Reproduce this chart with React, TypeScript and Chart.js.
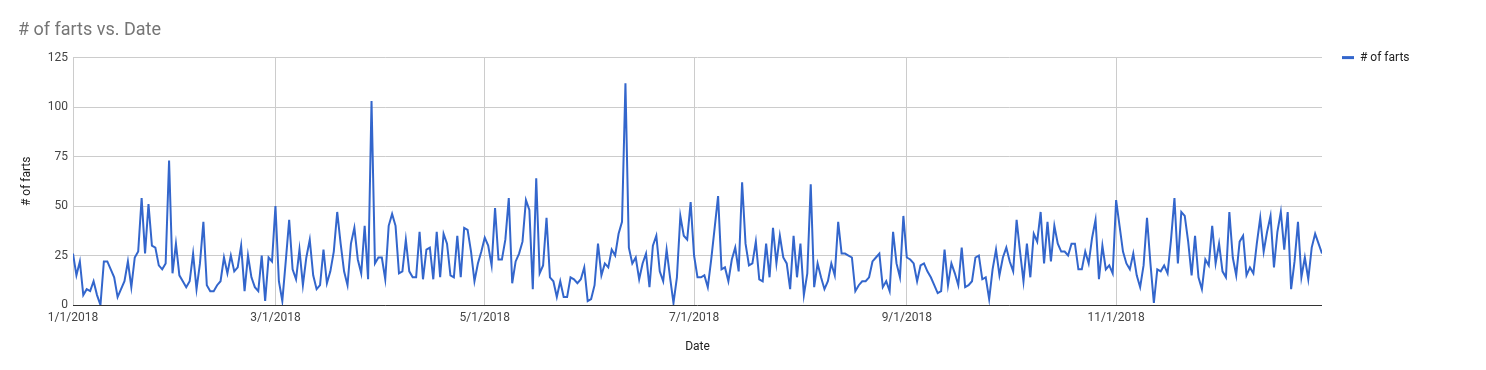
import React, { useEffect, useRef } from "react";
import { Chart, registerables } from "chart.js";

Chart.register(...registerables);

const chartTitle = "# of farts vs. Date";
const seriesName = "# of farts";
const xAxisTitle = "Date";
const yAxisTitle = "# of farts";

// daily values, one array per month of 2018
const jan = [26, 15, 22, 5, 8, 7, 12, 5, 0, 22, 22, 18, 14, 4, 8, 12, 22, 9, 24, 27, 54, 26, 51, 30, 29, 20, 18, 21, 73, 16, 31];
const feb = [15, 12, 9, 12, 26, 8, 21, 42, 10, 7, 7, 10, 12, 24, 16, 25, 17, 19, 30, 7, 25, 14, 9, 7, 25, 2, 24, 22];
const mar = [50, 12, 2, 22, 43, 18, 13, 28, 10, 24, 33, 15, 8, 10, 28, 11, 17, 27, 47, 31, 17, 10, 31, 39, 23, 16, 40, 13, 103, 21, 24];
const apr = [24, 13, 40, 46, 40, 16, 17, 33, 17, 14, 14, 37, 13, 28, 29, 13, 37, 14, 36, 31, 15, 14, 35, 14, 39, 38, 27, 12, 21, 27];
const may = [34, 30, 20, 49, 23, 23, 33, 54, 11, 22, 26, 32, 53, 48, 8, 64, 16, 20, 44, 14, 12, 4, 12, 4, 4, 14, 13, 11, 13, 19, 2];
const jun = [3, 10, 31, 15, 21, 19, 28, 25, 36, 42, 112, 29, 21, 24, 13, 21, 26, 9, 30, 35, 17, 12, 28, 14, 1, 14, 45, 35, 33, 52];
const jul = [25, 14, 14, 15, 9, 23, 39, 55, 18, 19, 12, 23, 29, 17, 62, 31, 20, 21, 32, 13, 12, 31, 14, 39, 21, 35, 24, 21, 8, 35, 14];
const aug = [31, 5, 16, 61, 9, 21, 14, 8, 12, 21, 15, 42, 26, 26, 25, 24, 7, 10, 12, 12, 14, 22, 24, 26, 9, 12, 7, 37, 21, 14, 45];
const sep = [24, 23, 21, 12, 20, 21, 17, 14, 10, 6, 7, 28, 10, 21, 16, 10, 29, 9, 10, 12, 24, 25, 13, 14, 3, 18, 28, 15, 24, 29];
const oct = [22, 17, 43, 27, 12, 31, 14, 36, 32, 47, 21, 42, 22, 40, 31, 27, 27, 25, 31, 31, 18, 18, 27, 21, 34, 43, 13, 30, 18, 20, 16];
const nov = [53, 40, 27, 21, 18, 26, 15, 9, 20, 44, 21, 1, 18, 17, 20, 16, 33, 54, 21, 47, 45, 32, 15, 35, 14, 8, 23, 20, 40, 21];
const dec = [31, 17, 14, 47, 24, 15, 32, 35, 15, 19, 16, 31, 44, 27, 37, 45, 19, 37, 47, 28, 47, 8, 22, 42, 14, 24, 13, 29, 36, 31, 26];

const months = [jan, feb, mar, apr, may, jun, jul, aug, sep, oct, nov, dec];

// x-axis ticks: month index they start at, and the label shown
const tickMonths = [0, 2, 4, 6, 8, 10];
const tickLabels = ["1/1/2018", "3/1/2018", "5/1/2018", "7/1/2018", "9/1/2018", "11/1/2018"];
const yTicks = [0, 25, 50, 75, 100, 125];

const lineColor = "#3366cc";

export default function App() {
  const ref = useRef<HTMLCanvasElement>(null);

  useEffect(() => {
    const values: number[] = ([] as number[]).concat(...months);
    const dayIndex = values.map((_, i) => i);
    const monthStart: number[] = [];
    let acc = 0;
    months.forEach((m) => {
      monthStart.push(acc);
      acc += m.length;
    });
    const tickDays = tickMonths.map((m) => monthStart[m]);

    const legendPlugin = {
      id: "sideLegend",
      afterDraw(chart: any) {
        const ctx = chart.ctx;
        const x0 = chart.chartArea.right + 20;
        const y0 = chart.chartArea.top;
        ctx.save();
        ctx.fillStyle = lineColor;
        ctx.fillRect(x0, y0 - 1.5, 12, 3);
        ctx.font = "12px Roboto";
        ctx.fillStyle = "#222222";
        ctx.textBaseline = "middle";
        ctx.textAlign = "left";
        ctx.fillText(seriesName, x0 + 18, y0);
        ctx.restore();
      },
    };

    const chart = new Chart(ref.current!, {
      type: "line",
      data: {
        labels: dayIndex,
        datasets: [
          {
            label: seriesName,
            data: values,
            borderColor: lineColor,
            backgroundColor: lineColor,
            borderWidth: 2,
            pointRadius: 0,
            tension: 0,
            fill: false,
          },
        ],
      },
      options: {
        responsive: false,
        animation: false,
        layout: { padding: { left: 18, right: 164, top: 0, bottom: 0 } },
        plugins: {
          legend: { display: false },
          tooltip: { enabled: false },
          title: {
            display: true,
            text: chartTitle,
            align: "start",
            color: "#757575",
            font: { family: "Roboto", size: 18, weight: "normal" },
            padding: { top: 20, bottom: 16 },
          },
        },
        scales: {
          x: {
            type: "linear",
            min: 0,
            max: values.length - 1,
            afterBuildTicks: (scale: any) => {
              scale.ticks = tickDays.map((v) => ({ value: v }));
            },
            afterFit: (scale: any) => {
              scale.height = 65;
            },
            ticks: {
              autoSkip: false,
              maxRotation: 0,
              padding: 6,
              color: "#444444",
              font: { family: "Roboto", size: 12 },
              callback: (v: any) => {
                const i = tickDays.indexOf(Number(v));
                return i >= 0 ? tickLabels[i] : "";
              },
            },
            grid: { color: "#cccccc", drawTicks: false, lineWidth: 1 },
            border: { display: false },
            title: {
              display: true,
              text: xAxisTitle,
              color: "#222222",
              font: { family: "Roboto", size: 12 },
              padding: { top: 0, bottom: 16 },
            },
          },
          y: {
            min: 0,
            max: 125,
            afterBuildTicks: (scale: any) => {
              scale.ticks = yTicks.map((v) => ({ value: v }));
            },
            afterFit: (scale: any) => {
              scale.width = 55;
            },
            ticks: {
              padding: 5,
              color: "#444444",
              font: { family: "Roboto", size: 12 },
            },
            grid: {
              drawTicks: false,
              lineWidth: 1,
              color: (c: any) => (c.tick && c.tick.value === 0 ? "#333333" : "#cccccc"),
            },
            border: { display: false },
            title: {
              display: true,
              text: yAxisTitle,
              color: "#222222",
              font: { family: "Roboto", size: 12 },
              padding: { top: 2, bottom: 0 },
            },
          },
        },
      },
      plugins: [legendPlugin],
    } as any);

    return () => chart.destroy();
  }, []);

  return (
    <div style={{ position: "fixed", left: 0, top: 0, width: 1486, height: 370, background: "#ffffff" }}>
      <canvas ref={ref} width={1486} height={370} style={{ display: "block" }} />
    </div>
  );
}
